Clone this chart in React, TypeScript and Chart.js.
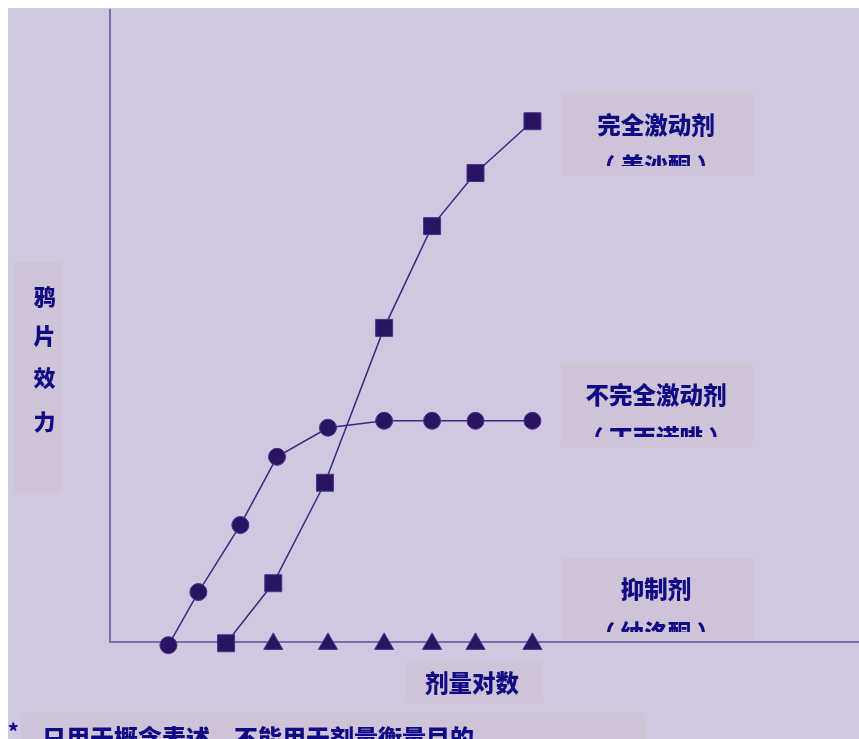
import React, { useEffect, useRef } from "react";
import { Chart, registerables } from "chart.js";

Chart.register(...registerables);

// ---- data (log dose on x, opioid effect on y; arbitrary 0-100 units) ----
const partialAgonistX = [7.8, 11.8, 17.4, 22.3, 29.1, 36.6, 43.0, 48.8, 56.4];
const partialAgonistY = [-0.5, 7.9, 18.5, 29.3, 33.9, 35.0, 35.0, 35.0, 35.0];
const fullAgonistX = [15.5, 21.8, 28.7, 36.6, 43.0, 48.8, 56.4];
const fullAgonistY = [-0.2, 9.3, 25.2, 49.7, 65.8, 74.2, 82.4];
const antagonistX = [21.8, 29.1, 36.6, 43.0, 48.8, 56.4];
const antagonistY = [-0.3, -0.3, -0.3, -0.3, -0.3, -0.3];

const seriesNames = ["完全激动剂", "不完全激动剂", "抑制剂"];
const seriesDrugs = ["（ 美沙酮 ）", "（ 丁丙诺啡 ）", "（ 纳洛酮 ）"];
const yAxisTitle = ["鸦", "片", "效", "力"];
const xAxisTitle = "剂量对数";
const footnoteMark = "*";
const footnote = "只用于概念表述，不能用于剂量衡量目的";

const BG = "rgb(208,200,224)";
const BOX = "rgb(206,195,215)";
const TEXT = "#100A84";
const AXIS = "rgb(125,108,168)";
const LINE = "rgb(58,40,128)";
const MARK = "#2A1462";
const FONT = '"Noto Sans CJK SC", "Noto Sans", sans-serif';

const toPoints = (xs: number[], ys: number[]) => xs.map((x, i) => ({ x, y: ys[i] }));

const decorPlugin = {
  id: "decor",
  beforeDraw(chart: any) {
    const ctx = chart.ctx as CanvasRenderingContext2D;
    ctx.save();
    ctx.fillStyle = BG;
    ctx.fillRect(0, 0, chart.width, chart.height);
    ctx.fillStyle = BOX;
    // series label boxes
    ctx.fillRect(553, 84, 192, 84);
    ctx.fillRect(553, 355, 192, 84);
    ctx.fillRect(553, 550, 192, 84);
    // axis title boxes
    ctx.fillRect(6, 254, 48, 231);
    ctx.fillRect(397, 653, 138, 42);
    // footnote box
    ctx.fillRect(13, 705, 624, 40);
    ctx.restore();
  },
  afterDraw(chart: any) {
    const ctx = chart.ctx as CanvasRenderingContext2D;
    ctx.save();
    ctx.fillStyle = TEXT;
    ctx.textAlign = "center";
    ctx.textBaseline = "middle";
    ctx.font = `900 23.5px ${FONT}`;
    const firstY = [117, 387, 581];
    const secondY = [158.5, 430.5, 625.5];
    const clipBottom = [158, 429, 624];
    for (let i = 0; i < seriesNames.length; i++) {
      ctx.fillText(seriesNames[i], 648, firstY[i]);
      ctx.save();
      ctx.beginPath();
      ctx.rect(553, secondY[i] - 20, 192, clipBottom[i] - (secondY[i] - 20));
      ctx.clip();
      ctx.fillText(seriesDrugs[i], 648, secondY[i]);
      ctx.restore();
    }
    // y axis title (vertical)
    ctx.font = `900 22px ${FONT}`;
    const yPos = [289, 328, 370, 414];
    yAxisTitle.forEach((ch, i) => ctx.fillText(ch, 36.5, yPos[i]));
    // x axis title
    ctx.font = `900 23.5px ${FONT}`;
    ctx.fillText(xAxisTitle, 464, 675);
    // footnote
    ctx.textAlign = "left";
    ctx.font = `900 24px ${FONT}`;
    ctx.fillText(footnote, 34, 729.5);
    ctx.font = `900 20px ${FONT}`;
    ctx.fillText(footnoteMark, 0, 723);
    ctx.restore();
  },
};

export default function App() {
  const ref = useRef<HTMLCanvasElement | null>(null);
  useEffect(() => {
    const canvas = ref.current!;
    const common = {
      borderColor: LINE,
      borderWidth: 1.5,
      backgroundColor: MARK,
      pointBackgroundColor: MARK,
      pointBorderColor: "rgb(70,50,140)",
      pointBorderWidth: 1,
      showLine: true,
      tension: 0,
      clip: false as const,
    };
    const chart = new Chart(canvas, {
      type: "scatter",
      data: {
        datasets: [
          {
            ...common,
            label: seriesNames[1],
            data: toPoints(partialAgonistX, partialAgonistY),
            pointStyle: "circle",
            pointRadius: 8.5,
          },
          {
            ...common,
            label: seriesNames[0],
            data: toPoints(fullAgonistX, fullAgonistY),
            pointStyle: "rect",
            pointRadius: 12,
          },
          {
            ...common,
            label: seriesNames[2],
            data: toPoints(antagonistX, antagonistY),
            showLine: false,
            pointStyle: "triangle",
            pointRadius: 11,
          },
        ],
      },
      options: {
        responsive: false,
        animation: false,
        events: [],
        layout: { autoPadding: false, padding: { left: 102, top: 2, right: 0, bottom: 97 } },
        plugins: { legend: { display: false }, tooltip: { enabled: false }, title: { display: false } },
        scales: {
          x: {
            type: "linear",
            min: 0,
            max: 100,
            ticks: { display: false },
            grid: { display: false, drawTicks: false },
            border: { display: true, color: AXIS, width: 2 },
          },
          y: {
            type: "linear",
            min: 0,
            max: 100,
            ticks: { display: false },
            grid: { display: false, drawTicks: false },
            border: { display: true, color: AXIS, width: 2 },
          },
        },
      },
      plugins: [decorPlugin],
    });
    return () => chart.destroy();
  }, []);
  return (
    <div style={{ position: "fixed", left: 8, top: 8, width: 851, height: 731, background: BG }}>
      <canvas ref={ref} width={851} height={731} style={{ width: 851, height: 731, display: "block" }} />
    </div>
  );
}
